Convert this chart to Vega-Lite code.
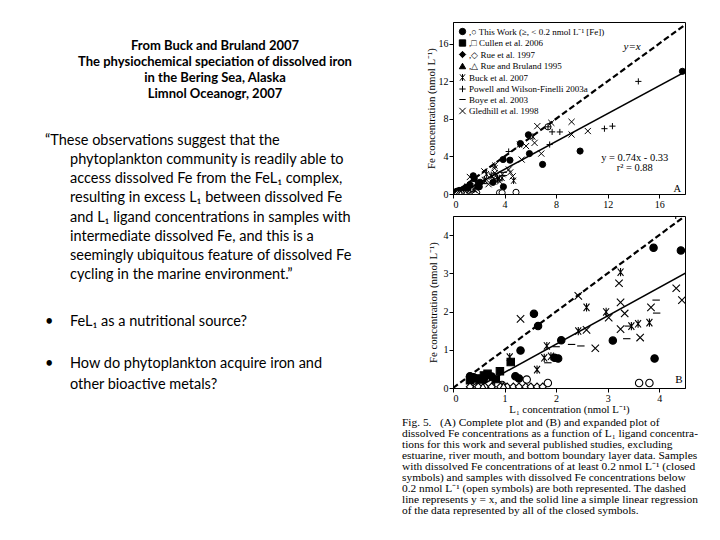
{
  "$schema": "https://vega.github.io/schema/vega-lite/v6.json",
  "background": "white",
  "padding": {"left": 0, "top": 21, "right": 0, "bottom": 0},
  "config": {
    "view": {"stroke": null},
    "axis": {"labelFont": "Liberation Serif", "labelFontSize": 10, "labelColor": "black", "titleFont": "Liberation Serif", "titleFontSize": 10.8, "titleFontWeight": "normal", "titleColor": "black", "domainColor": "black", "tickColor": "black", "tickSize": 4, "grid": false, "labelPadding": 1, "titlePadding": 1}
  },
  "datasets": {
    "header": [
      {"line": 1, "text": "From Buck and Bruland 2007"},
      {"line": 2, "text": "The physiochemical speciation of dissolved iron"},
      {"line": 3, "text": "in the Bering Sea, Alaska"},
      {"line": 4, "text": "Limnol Oceanogr, 2007"}
    ],
    "quote": [
      {"line": 1, "indent": 0, "text": "“These observations suggest that the"},
      {"line": 2, "indent": 1, "text": "phytoplankton community is readily able to"},
      {"line": 3, "indent": 1, "text": "access dissolved Fe from the FeL₁ complex,"},
      {"line": 4, "indent": 1, "text": "resulting in excess L₁ between dissolved Fe"},
      {"line": 5, "indent": 1, "text": "and L₁ ligand concentrations in samples with"},
      {"line": 6, "indent": 1, "text": "intermediate dissolved Fe, and this is a"},
      {"line": 7, "indent": 1, "text": "seemingly ubiquitous feature of dissolved Fe"},
      {"line": 8, "indent": 1, "text": "cycling in the marine environment.”"}
    ],
    "bullets": [
      {"line": 1, "indent": 0, "text": "•"},
      {"line": 1, "indent": 1, "text": "FeL₁ as a nutritional source?"},
      {"line": 3, "indent": 0, "text": "•"},
      {"line": 3, "indent": 1, "text": "How do phytoplankton acquire iron and"},
      {"line": 4, "indent": 1, "text": "other bioactive metals?"}
    ],
    "lines": [
      {"line": "y=x", "x": 0, "y": 0},
      {"line": "y=x", "x": 18.3, "y": 18.3},
      {"line": "fit", "x": 0.45, "y": 0},
      {"line": "fit", "x": 18, "y": 12.99}
    ],
    "noteA": [
      {"x": 14.1, "y": 3.8, "t": "y = 0.74x - 0.33"},
      {"x": 14.1, "y": 2.75, "t": "r² = 0.88"},
      {"x": 17.4, "y": 0.55, "t": "A"}
    ],
    "noteAi": [
      {"x": 13.9, "y": 15.6, "t": "y=x"}
    ],
    "noteB": [
      {"x": 4.38, "y": 0.22, "t": "B"}
    ],
    "pts": [
      {"s": "This Work", "o": "closed", "x": 0.33, "y": 0.31},
      {"s": "This Work", "o": "closed", "x": 0.40, "y": 0.28},
      {"s": "This Work", "o": "closed", "x": 0.52, "y": 0.20},
      {"s": "This Work", "o": "closed", "x": 0.60, "y": 0.24},
      {"s": "This Work", "o": "closed", "x": 0.75, "y": 0.30},
      {"s": "This Work", "o": "closed", "x": 1.21, "y": 0.31},
      {"s": "This Work", "o": "closed", "x": 1.28, "y": 0.25},
      {"s": "This Work", "o": "closed", "x": 1.31, "y": 0.98},
      {"s": "This Work", "o": "closed", "x": 1.57, "y": 1.94},
      {"s": "This Work", "o": "closed", "x": 1.65, "y": 1.62},
      {"s": "This Work", "o": "closed", "x": 2.10, "y": 1.25},
      {"s": "This Work", "o": "closed", "x": 1.97, "y": 0.79},
      {"s": "This Work", "o": "closed", "x": 2.04, "y": 0.77},
      {"s": "This Work", "o": "closed", "x": 3.10, "y": 1.24},
      {"s": "This Work", "o": "closed", "x": 3.89, "y": 3.67},
      {"s": "This Work", "o": "closed", "x": 4.42, "y": 3.60},
      {"s": "This Work", "o": "closed", "x": 3.91, "y": 0.77},
      {"s": "This Work", "o": "closed", "x": 5.23, "y": 5.37},
      {"s": "This Work", "o": "closed", "x": 5.85, "y": 6.30},
      {"s": "This Work", "o": "closed", "x": 5.93, "y": 4.30},
      {"s": "This Work", "o": "closed", "x": 6.95, "y": 3.15},
      {"s": "This Work", "o": "closed", "x": 9.86, "y": 4.57},
      {"s": "This Work", "o": "closed", "x": 17.8, "y": 13.05},
      {"s": "This Work", "o": "open", "x": 0.46, "y": 0.02},
      {"s": "This Work", "o": "open", "x": 0.95, "y": 0.08},
      {"s": "This Work", "o": "open", "x": 1.43, "y": 0.22},
      {"s": "This Work", "o": "open", "x": 1.84, "y": 0.13},
      {"s": "This Work", "o": "open", "x": 3.61, "y": 0.13},
      {"s": "This Work", "o": "open", "x": 3.81, "y": 0.13},
      {"s": "This Work", "o": "open", "x": 4.89, "y": 0.18},
      {"s": "This Work", "o": "open", "x": 7.37, "y": 7.15},
      {"s": "Cullen et al. 2006", "o": "closed", "x": 0.33, "y": 0.20},
      {"s": "Cullen et al. 2006", "o": "closed", "x": 0.46, "y": 0.25},
      {"s": "Cullen et al. 2006", "o": "closed", "x": 0.60, "y": 0.33},
      {"s": "Cullen et al. 2006", "o": "closed", "x": 0.67, "y": 0.37},
      {"s": "Cullen et al. 2006", "o": "closed", "x": 0.83, "y": 0.22},
      {"s": "Cullen et al. 2006", "o": "closed", "x": 0.91, "y": 0.44},
      {"s": "Cullen et al. 2006", "o": "closed", "x": 1.12, "y": 0.68},
      {"s": "Cullen et al. 2006", "o": "open", "x": 0.52, "y": 0.03},
      {"s": "Cullen et al. 2006", "o": "open", "x": 0.88, "y": 0.04},
      {"s": "Rue et al. 1997", "o": "open", "x": 0.33, "y": 0.03},
      {"s": "Rue et al. 1997", "o": "open", "x": 0.49, "y": 0.03},
      {"s": "Rue et al. 1997", "o": "open", "x": 0.62, "y": 0.03},
      {"s": "Rue et al. 1997", "o": "open", "x": 0.75, "y": 0.03},
      {"s": "Rue et al. 1997", "o": "open", "x": 0.92, "y": 0.03},
      {"s": "Rue et al. 1997", "o": "open", "x": 1.05, "y": 0.03},
      {"s": "Rue et al. 1997", "o": "open", "x": 1.17, "y": 0.03},
      {"s": "Rue et al. 1997", "o": "open", "x": 1.28, "y": 0.03},
      {"s": "Rue et al. 1997", "o": "open", "x": 1.41, "y": 0.03},
      {"s": "Rue et al. 1997", "o": "open", "x": 1.51, "y": 0.03},
      {"s": "Rue et al. 1997", "o": "open", "x": 1.63, "y": 0.03},
      {"s": "Rue et al. 1997", "o": "open", "x": 1.74, "y": 0.03},
      {"s": "Rue and Bruland 1995", "o": "open", "x": 0.58, "y": 0.04},
      {"s": "Rue and Bruland 1995", "o": "open", "x": 0.98, "y": 0.05},
      {"s": "Buck et al. 2007", "o": "closed", "x": 1.10, "y": 0.81},
      {"s": "Buck et al. 2007", "o": "closed", "x": 1.63, "y": 0.48},
      {"s": "Buck et al. 2007", "o": "closed", "x": 1.77, "y": 0.79},
      {"s": "Buck et al. 2007", "o": "closed", "x": 1.90, "y": 0.83},
      {"s": "Buck et al. 2007", "o": "closed", "x": 1.82, "y": 1.10},
      {"s": "Buck et al. 2007", "o": "closed", "x": 2.43, "y": 1.49},
      {"s": "Buck et al. 2007", "o": "closed", "x": 2.59, "y": 2.11},
      {"s": "Buck et al. 2007", "o": "closed", "x": 2.97, "y": 1.99},
      {"s": "Buck et al. 2007", "o": "closed", "x": 3.25, "y": 3.03},
      {"s": "Buck et al. 2007", "o": "closed", "x": 3.46, "y": 1.62},
      {"s": "Buck et al. 2007", "o": "closed", "x": 3.59, "y": 1.68},
      {"s": "Buck et al. 2007", "o": "closed", "x": 3.81, "y": 1.71},
      {"s": "Buck et al. 2007", "o": "closed", "x": 4.70, "y": 1.42},
      {"s": "Buck et al. 2007", "o": "closed", "x": 5.15, "y": 5.26},
      {"s": "Buck et al. 2007", "o": "closed", "x": 6.20, "y": 6.10},
      {"s": "Powell and Wilson-Finelli 2003a", "o": "closed", "x": 4.32, "y": 4.52},
      {"s": "Powell and Wilson-Finelli 2003a", "o": "closed", "x": 7.50, "y": 5.26},
      {"s": "Powell and Wilson-Finelli 2003a", "o": "closed", "x": 7.37, "y": 7.15},
      {"s": "Powell and Wilson-Finelli 2003a", "o": "closed", "x": 7.69, "y": 6.61},
      {"s": "Powell and Wilson-Finelli 2003a", "o": "closed", "x": 8.29, "y": 6.60},
      {"s": "Powell and Wilson-Finelli 2003a", "o": "closed", "x": 11.75, "y": 6.95},
      {"s": "Powell and Wilson-Finelli 2003a", "o": "closed", "x": 12.37, "y": 7.22},
      {"s": "Powell and Wilson-Finelli 2003a", "o": "closed", "x": 14.38, "y": 11.98},
      {"s": "Boye et al. 2003", "o": "closed", "x": 1.84, "y": 0.66},
      {"s": "Boye et al. 2003", "o": "closed", "x": 2.00, "y": 1.08},
      {"s": "Boye et al. 2003", "o": "closed", "x": 2.30, "y": 1.14},
      {"s": "Boye et al. 2003", "o": "closed", "x": 2.48, "y": 1.10},
      {"s": "Boye et al. 2003", "o": "closed", "x": 3.37, "y": 1.29},
      {"s": "Boye et al. 2003", "o": "closed", "x": 3.40, "y": 1.62},
      {"s": "Boye et al. 2003", "o": "closed", "x": 3.94, "y": 2.30},
      {"s": "Boye et al. 2003", "o": "closed", "x": 3.95, "y": 1.96},
      {"s": "Gledhill et al. 1998", "o": "closed", "x": 1.31, "y": 1.81},
      {"s": "Gledhill et al. 1998", "o": "closed", "x": 2.43, "y": 2.41},
      {"s": "Gledhill et al. 1998", "o": "closed", "x": 2.59, "y": 1.52},
      {"s": "Gledhill et al. 1998", "o": "closed", "x": 2.76, "y": 1.04},
      {"s": "Gledhill et al. 1998", "o": "closed", "x": 3.02, "y": 1.84},
      {"s": "Gledhill et al. 1998", "o": "closed", "x": 3.22, "y": 2.74},
      {"s": "Gledhill et al. 1998", "o": "closed", "x": 3.25, "y": 2.24},
      {"s": "Gledhill et al. 1998", "o": "closed", "x": 3.33, "y": 1.95},
      {"s": "Gledhill et al. 1998", "o": "closed", "x": 3.25, "y": 1.54},
      {"s": "Gledhill et al. 1998", "o": "closed", "x": 3.63, "y": 1.32},
      {"s": "Gledhill et al. 1998", "o": "closed", "x": 3.84, "y": 2.11},
      {"s": "Gledhill et al. 1998", "o": "closed", "x": 4.33, "y": 2.61},
      {"s": "Gledhill et al. 1998", "o": "closed", "x": 4.44, "y": 2.30},
      {"s": "Gledhill et al. 1998", "o": "closed", "x": 4.63, "y": 1.88},
      {"s": "Gledhill et al. 1998", "o": "closed", "x": 5.33, "y": 3.66},
      {"s": "Gledhill et al. 1998", "o": "closed", "x": 5.67, "y": 5.10},
      {"s": "Gledhill et al. 1998", "o": "closed", "x": 6.33, "y": 5.44},
      {"s": "Gledhill et al. 1998", "o": "closed", "x": 6.54, "y": 7.22},
      {"s": "Gledhill et al. 1998", "o": "closed", "x": 6.85, "y": 4.30},
      {"s": "Gledhill et al. 1998", "o": "closed", "x": 7.63, "y": 7.57},
      {"s": "Gledhill et al. 1998", "o": "closed", "x": 9.20, "y": 7.68},
      {"s": "Gledhill et al. 1998", "o": "closed", "x": 9.20, "y": 6.33},
      {"s": "Gledhill et al. 1998", "o": "closed", "x": 10.46, "y": 6.70}
    ]
  },
  "spacing": 23,
  "bounds": "flush",
  "resolve": {"scale": {"x": "independent", "y": "independent"}},
  "hconcat": [
    {
      "width": 430,
      "height": 400,
      "layer": [
        {
          "data": {"name": "header"},
          "mark": {"type": "text", "font": "Lato", "fontSize": 13, "fontWeight": "bold", "align": "center", "baseline": "middle", "color": "black"},
          "encoding": {
            "y": {"field": "line", "type": "quantitative", "scale": {"domain": [1, 4], "range": [24, 72], "zero": false, "nice": false}, "axis": null},
            "text": {"field": "text"}
          }
        },
        {
          "data": {"name": "quote"},
          "mark": {"type": "text", "font": "Lato", "fontSize": 14.5, "align": "left", "baseline": "middle", "color": "black"},
          "encoding": {
            "x": {"field": "indent", "type": "quantitative", "scale": {"domain": [0, 1], "range": [45, 70], "zero": false, "nice": false}, "axis": null},
            "y": {"field": "line", "type": "quantitative", "scale": {"domain": [1, 8], "range": [119, 253], "zero": false, "nice": false}, "axis": null},
            "text": {"field": "text"}
          }
        },
        {
          "data": {"name": "bullets"},
          "mark": {"type": "text", "font": "Lato", "fontSize": 14.5, "align": "left", "baseline": "middle", "color": "black"},
          "encoding": {
            "x": {"field": "indent", "type": "quantitative", "scale": {"domain": [0, 1], "range": [45, 70], "zero": false, "nice": false}, "axis": null},
            "y": {"field": "line", "type": "quantitative", "scale": {"domain": [1, 4], "range": [300, 363], "zero": false, "nice": false}, "axis": null},
            "text": {"field": "text"}
          }
        }
      ],
      "resolve": {"scale": {"x": "independent", "y": "independent"}}
    },
    {
      "spacing": 22,
      "bounds": "flush",
      "resolve": {"scale": {"x": "independent", "y": "independent", "shape": "independent", "fill": "independent"}, "legend": {"shape": "independent", "fill": "independent"}},
      "vconcat": [
        {
          "width": 232,
          "height": 172,
          "view": {"stroke": "black", "strokeWidth": 1},
          "encoding": {
            "x": {"field": "x", "type": "quantitative", "scale": {"domain": [0, 18], "nice": false, "zero": false}, "axis": {"values": [0, 4, 8, 12, 16], "title": null}},
            "y": {"field": "y", "type": "quantitative", "scale": {"domain": [0, 18.3], "nice": false, "zero": false}, "axis": {"values": [0, 4, 8, 12, 16], "title": "Fe concentration (nmol L⁻¹)", "titlePadding": 2}}
          },
          "layer": [
            {
              "data": {"name": "lines"},
              "transform": [{"filter": "datum.line === 'y=x'"}],
              "mark": {"type": "line", "color": "black", "strokeWidth": 2.2, "strokeDash": [6, 3], "clip": true},
              "encoding": {}
            },
            {
              "data": {"name": "lines"},
              "transform": [{"filter": "datum.line === 'fit'"}],
              "mark": {"type": "line", "color": "black", "strokeWidth": 1.6, "clip": true},
              "encoding": {}
            },
            {
              "data": {"name": "pts"},
              "mark": {"type": "point", "filled": true, "opacity": 1, "size": 38, "strokeWidth": 1, "stroke": "black", "clip": true},
              "encoding": {
                "shape": {"field": "s", "type": "nominal",
                  "scale": {"domain": ["This Work", "Cullen et al. 2006", "Rue et al. 1997", "Rue and Bruland 1995", "Buck et al. 2007", "Powell and Wilson-Finelli 2003a", "Boye et al. 2003", "Gledhill et al. 1998"],
                    "range": ["circle", "square", "diamond", "triangle-up", "M-0.8,-1L0.8,1M-0.8,1L0.8,-1M0,-1.1L0,1.1", "M-1,0L1,0M0,-1L0,1", "M-1,0L1,0", "M-1,-1L1,1M-1,1L1,-1"]},
                  "legend": {"orient": "top-left", "title": null, "offset": 5, "padding": 0, "labelFont": "Liberation Serif", "labelFontSize": 9, "labelColor": "black", "symbolSize": 40, "symbolFillColor": "black", "symbolStrokeColor": "black", "symbolStrokeWidth": 1, "symbolOpacity": 1, "rowPadding": 0.5, "labelOffset": 2, "labelLimit": 0,
                    "labelExpr": "datum.label === 'This Work' ? ',○ This Work (≥, < 0.2 nmol L⁻¹ [Fe])' : datum.label === 'Cullen et al. 2006' ? ',□ Cullen et al. 2006' : datum.label === 'Rue et al. 1997' ? ',◇ Rue et al. 1997' : datum.label === 'Rue and Bruland 1995' ? ',△ Rue and Bruland 1995' : datum.label"}
                },
                "fill": {"field": "o", "type": "nominal", "scale": {"domain": ["closed", "open"], "range": ["black", "white"]}, "legend": null}
              }
            },
            {
              "data": {"name": "noteA"},
              "mark": {"type": "text", "font": "Liberation Serif", "fontSize": 10.5, "align": "center", "baseline": "middle", "color": "black"},
              "encoding": {"text": {"field": "t"}}
            },
            {
              "data": {"name": "noteAi"},
              "mark": {"type": "text", "font": "Liberation Serif", "fontSize": 11, "fontStyle": "italic", "align": "center", "baseline": "middle", "color": "black"},
              "encoding": {"text": {"field": "t"}}
            }
          ]
        },
        {
          "width": 232,
          "height": 172,
          "view": {"stroke": "black", "strokeWidth": 1},
          "title": {
            "text": [
              "\u00a0\u00a0\u00a0\u00a0Fig. 5.\u00a0\u00a0\u00a0(A) Complete plot and (B) and expanded plot of",
              "dissolved Fe concentrations as a function of L₁ ligand concentra-",
              "tions for this work and several published studies, excluding",
              "estuarine, river mouth, and bottom boundary layer data. Samples",
              "with dissolved Fe concentrations of at least 0.2 nmol L⁻¹ (closed",
              "symbols) and samples with dissolved Fe concentrations below",
              "0.2 nmol L⁻¹ (open symbols) are both represented. The dashed",
              "line represents y = x, and the solid line a simple linear regression",
              "of the data represented by all of the closed symbols."
            ],
            "orient": "bottom", "anchor": "start", "frame": "group", "dx": -51, "offset": 3,
            "font": "Liberation Serif", "fontSize": 11.4, "fontWeight": "normal", "lineHeight": 11, "color": "black"
          },
          "encoding": {
            "x": {"field": "x", "type": "quantitative", "scale": {"domain": [0, 4.5], "nice": false, "zero": false}, "axis": {"values": [0, 1, 2, 3, 4], "title": "L₁ concentration (nmol L⁻¹)", "titlePadding": 0}},
            "y": {"field": "y", "type": "quantitative", "scale": {"domain": [0, 4.5], "nice": false, "zero": false}, "axis": {"values": [0, 1, 2, 3, 4], "title": "Fe concentration (nmol L⁻¹)", "titlePadding": 5}}
          },
          "layer": [
            {
              "data": {"name": "lines"},
              "transform": [{"filter": "datum.line === 'y=x'"}],
              "mark": {"type": "line", "color": "black", "strokeWidth": 2.2, "strokeDash": [6, 3], "clip": true},
              "encoding": {}
            },
            {
              "data": {"name": "lines"},
              "transform": [{"filter": "datum.line === 'fit'"}],
              "mark": {"type": "line", "color": "black", "strokeWidth": 1.6, "clip": true},
              "encoding": {}
            },
            {
              "data": {"name": "pts"},
              "mark": {"type": "point", "filled": true, "opacity": 1, "size": 55, "strokeWidth": 1.1, "stroke": "black", "clip": true},
              "encoding": {
                "shape": {"field": "s", "type": "nominal",
                  "scale": {"domain": ["This Work", "Cullen et al. 2006", "Rue et al. 1997", "Rue and Bruland 1995", "Buck et al. 2007", "Powell and Wilson-Finelli 2003a", "Boye et al. 2003", "Gledhill et al. 1998"],
                    "range": ["circle", "square", "diamond", "triangle-up", "M-0.8,-1L0.8,1M-0.8,1L0.8,-1M0,-1.1L0,1.1", "M-1,0L1,0M0,-1L0,1", "M-1,0L1,0", "M-1,-1L1,1M-1,1L1,-1"]},
                  "legend": null},
                "fill": {"field": "o", "type": "nominal", "scale": {"domain": ["closed", "open"], "range": ["black", "white"]}, "legend": null}
              }
            },
            {
              "data": {"name": "noteB"},
              "mark": {"type": "text", "font": "Liberation Serif", "fontSize": 11, "align": "center", "baseline": "middle", "color": "black"},
              "encoding": {"text": {"field": "t"}}
            }
          ]
        }
      ]
    }
  ]
}
